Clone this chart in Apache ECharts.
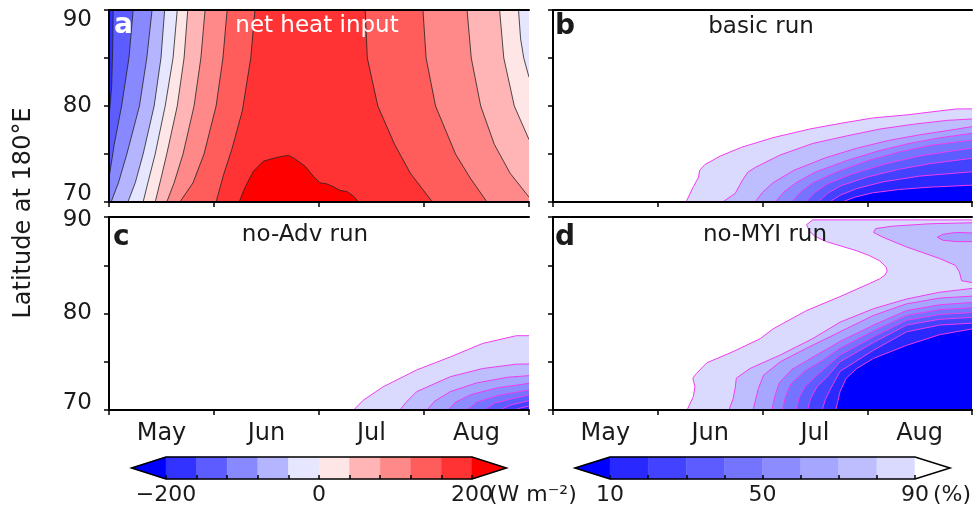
<!DOCTYPE html>
<html>
<head>
<meta charset="utf-8">
<script src="https://cdn.jsdelivr.net/npm/echarts@6/dist/echarts.min.js"></script>
<style>
  html, body { margin: 0; padding: 0; background: #fff; }
  #chart { width: 979px; height: 512px; }
</style>
</head>
<body>
<div id="chart"></div>
<script>
// x is months since 1 May (0..4), y is latitude (70..90)
const months = ["May", "Jun", "Jul", "Aug"];
const latLabels = [70, 80, 90];

// colour bars
const heatBarStops = [-245, -200, -160, -120, -80, -40, 0, 40, 80, 120, 160, 200, 245];
const heatColors = ["#0000ff", "#3333ff", "#5c5cff", "#8888ff", "#b5b5ff", "#e6e6ff",
  "#ffe6e6", "#ffb5b5", "#ff8888", "#ff5c5c", "#ff3333", "#ff0000"];
const iceBarStops = [0.8, 10, 20, 30, 40, 50, 60, 70, 80, 90, 99.2];
const iceColors = ["#0000ff", "#2828ff", "#4242ff", "#5c5cff", "#7474ff", "#8c8cff",
  "#a6a6ff", "#bebeff", "#dadaff", "#ffffff"];

// a: net heat input (W m-2), contours on the rising side (value grows to the right)
const heatRise = [
  { level: -160, pts: [[0.04, 90], [0.035, 86], [0.025, 82], [0, 78.8]] },
  { level: -120, pts: [[0.23, 90], [0.19, 85], [0.12, 80], [0.05, 76], [0, 72.5]] },
  { level: -80, pts: [[0.41, 90], [0.36, 85], [0.29, 80], [0.17, 75], [0.09, 72], [0.02, 70]] },
  { level: -40, pts: [[0.53, 90], [0.495, 85], [0.43, 80], [0.325, 75], [0.25, 72], [0.18, 70]] },
  { level: 0, pts: [[0.65, 90], [0.61, 85], [0.535, 80], [0.44, 75], [0.37, 72], [0.325, 70]] },
  { level: 40, pts: [[0.75, 90], [0.715, 85], [0.65, 80], [0.55, 75], [0.485, 72], [0.44, 70]] },
  { level: 80, pts: [[0.915, 90], [0.875, 85], [0.81, 80], [0.705, 75], [0.62, 72], [0.55, 70]] },
  { level: 120, pts: [[1.125, 90], [1.085, 85], [1.02, 80], [0.905, 75], [0.8, 72], [0.675, 70]] },
  { level: 160, pts: [[1.39, 90], [1.35, 85], [1.27, 79.5], [1.17, 75.5], [1.09, 72.8], [1.02, 70]] }
];
// contours on the falling side (value drops to the right)
const heatFall = [
  { level: 160, pts: [[2.44, 90], [2.46, 85], [2.56, 80], [2.72, 76], [2.87, 73], [3.08, 70]] },
  { level: 120, pts: [[2.99, 90], [3.02, 85], [3.11, 80], [3.3, 75], [3.44, 72.5], [3.6, 70]] },
  { level: 80, pts: [[3.41, 90], [3.45, 85], [3.54, 80], [3.67, 76], [3.82, 73], [4, 70.5]] },
  { level: 40, pts: [[3.72, 90], [3.76, 85], [3.86, 80], [4, 76.5]] },
  { level: 0, pts: [[3.9, 90], [3.92, 87], [3.95, 85], [4, 83]] }
];
const heatPeak = { level: 200, pts: [[1.24, 70], [1.295, 71.5], [1.375, 73.2], [1.47, 74.25], [1.55, 74.5],
  [1.645, 74.75], [1.71, 74.85], [1.77, 74.5], [1.87, 73.7], [1.945, 72.7], [2.01, 72.0], [2.07, 71.9],
  [2.135, 71.6], [2.2, 71.2], [2.265, 71.1], [2.33, 70.6], [2.375, 70]] };

// b: basic run, sea ice concentration (%)
const basicRun = [
  { level: 90, pts: [[1.27, 70], [1.34, 71.6], [1.39, 72.6], [1.4, 73.3], [1.45, 73.9], [1.6, 74.8], [1.8, 75.7],
    [2.1, 76.7], [2.45, 77.6], [2.75, 78.2], [3.05, 78.75], [3.4, 79.1], [3.7, 79.5], [3.86, 79.7], [4, 79.7]] },
  { level: 80, pts: [[1.62, 70], [1.74, 70.9], [1.81, 72.3], [1.86, 73.1], [1.93, 73.6], [2.17, 74.9], [2.48, 76.1],
    [2.81, 76.9], [3.12, 77.6], [3.44, 78.1], [3.76, 78.5], [4, 78.65]] },
  { level: 70, pts: [[1.93, 70], [2.0, 71.0], [2.1, 72.0], [2.3, 73.3], [2.6, 74.6], [2.9, 75.6], [3.2, 76.4],
    [3.5, 77.0], [3.8, 77.5], [4, 77.85]] },
  { level: 60, pts: [[2.12, 70], [2.2, 71.0], [2.32, 72.0], [2.5, 73.1], [2.8, 74.3], [3.1, 75.3], [3.4, 76.1],
    [3.7, 76.7], [4, 77.15]] },
  { level: 50, pts: [[2.28, 70], [2.36, 71.0], [2.48, 72.0], [2.7, 73.1], [3.0, 74.3], [3.3, 75.2], [3.6, 75.9], [4, 76.45]] },
  { level: 40, pts: [[2.41, 70], [2.5, 71.0], [2.62, 71.9], [2.85, 72.9], [3.15, 73.9], [3.5, 74.8], [3.8, 75.3], [4, 75.6]] },
  { level: 30, pts: [[2.53, 70], [2.62, 70.9], [2.75, 71.7], [3.0, 72.6], [3.3, 73.4], [3.6, 74.0], [4, 74.55]] },
  { level: 20, pts: [[2.64, 70], [2.74, 70.7], [2.9, 71.4], [3.15, 72.1], [3.5, 72.7], [4, 73.15]] },
  { level: 10, pts: [[2.76, 70], [2.88, 70.5], [3.05, 70.95], [3.3, 71.3], [3.6, 71.55], [4, 71.75]] }
];

// c: no-Adv run
const noAdvRun = [
  { level: 90, pts: [[2.33, 70], [2.42, 71.0], [2.61, 72.4], [2.93, 74.15], [3.25, 75.5], [3.56, 76.9], [3.88, 77.7], [4, 77.7]] },
  { level: 80, pts: [[2.77, 70], [2.83, 70.8], [2.93, 71.9], [3.25, 73.45], [3.56, 74.3], [3.88, 74.75], [4, 74.77]] },
  { level: 70, pts: [[3.03, 70], [3.1, 70.9], [3.25, 71.9], [3.5, 72.8], [3.8, 73.4], [4, 73.56]] },
  { level: 60, pts: [[3.23, 70], [3.3, 70.8], [3.45, 71.6], [3.7, 72.3], [4, 72.76]] },
  { level: 50, pts: [[3.41, 70], [3.5, 70.8], [3.7, 71.5], [4, 72.07]] },
  { level: 40, pts: [[3.57, 70], [3.67, 70.7], [3.85, 71.2], [4, 71.55]] },
  { level: 30, pts: [[3.72, 70], [3.82, 70.5], [4, 70.97]] },
  { level: 20, pts: [[3.86, 70], [3.93, 70.25], [4, 70.4]] }
];

// d: no-MYI run
const noMyiRun = [
  { level: 90, pts: [[1.28, 70], [1.34, 71.4], [1.355, 72.4], [1.335, 73.3], [1.37, 73.8], [1.47, 74.9], [1.72, 76.05],
    [1.98, 77.4], [2.1, 78.4], [2.42, 80.3], [2.74, 81.75], [3.02, 83.1], [3.12, 83.6], [3.17, 84.0], [3.19, 84.4],
    [3.18, 84.8], [3.12, 85.45], [3.02, 86.0], [2.9, 86.5], [2.61, 87.45], [2.5, 88.0], [2.45, 88.5], [2.42, 89.2],
    [2.48, 89.7], [4, 89.7]] },
  { level: 80, pts: [[1.68, 70], [1.72, 71.2], [1.74, 72.3], [1.75, 73.3], [1.88, 74.3], [2.17, 75.7], [2.48, 77.4],
    [2.74, 79.1], [3.06, 80.5], [3.375, 81.5], [3.69, 82.2], [4, 82.6]] },
  { level: 80, pts: [[4, 83.2], [3.9, 83.4], [3.88, 84.3], [3.84, 85.0], [3.69, 85.7], [3.375, 86.9], [3.15, 87.9],
    [3.06, 88.4], [3.08, 88.8], [3.24, 89.05], [3.6, 89.3], [4, 89.4]] },
  { level: 70, pts: [[1.91, 70], [1.96, 72.2], [2.01, 73.6], [2.17, 75.0], [2.42, 76.4], [2.74, 78.1], [3.06, 79.8],
    [3.375, 81.0], [3.69, 81.6], [4, 81.8]] },
  { level: 70, pts: [[4, 88.35], [3.85, 88.4], [3.72, 88.2], [3.67, 87.9], [3.72, 87.6], [3.85, 87.45], [4, 87.45]] },
  { level: 60, pts: [[2.09, 70], [2.12, 71.5], [2.16, 72.8], [2.28, 74.2], [2.5, 75.6], [2.74, 77.1], [3.06, 78.8],
    [3.375, 80.3], [3.69, 80.9], [4, 81.15]] },
  { level: 50, pts: [[2.19, 70], [2.22, 71.4], [2.27, 72.7], [2.4, 74.0], [2.58, 75.2], [2.74, 76.4], [3.06, 78.2],
    [3.375, 79.8], [3.69, 80.4], [4, 80.6]] },
  { level: 40, pts: [[2.32, 70], [2.35, 71.3], [2.41, 72.5], [2.53, 73.7], [2.74, 75.7], [3.06, 77.6], [3.375, 79.3],
    [3.69, 79.9], [4, 80.1]] },
  { level: 30, pts: [[2.43, 70], [2.46, 71.2], [2.52, 72.4], [2.63, 73.6], [2.74, 75.0], [3.06, 77.0], [3.375, 78.8],
    [3.69, 79.4], [4, 79.6]] },
  { level: 20, pts: [[2.57, 70], [2.6, 71.1], [2.65, 72.2], [2.74, 74.0], [3.06, 76.2], [3.375, 78.1], [3.69, 78.8], [4, 79.0]] },
  { level: 10, pts: [[2.7, 70], [2.74, 71.9], [2.8, 73.3], [2.9, 74.3], [3.06, 75.35], [3.375, 76.7], [3.69, 77.8], [4, 78.4]] }
];

const FONT = "DejaVu Sans";
const TXT = "#1a1a1a";

// filled bands for panel a: each contour fills everything to its right
function heatItems() {
  const items = [{ poly: [[0, 70], [0, 90], [4, 90], [4, 70]], line: null, color: heatColors[1] }];
  heatRise.forEach((c) => {
    const poly = c.pts.slice();
    if (poly[poly.length - 1][1] > 70) poly.push([0, 70]);
    poly.push([4, 70], [4, 90]);
    items.push({ poly, line: c.pts, color: heatColors[(c.level + 200) / 40 + 1] });
  });
  heatFall.forEach((c) => {
    const poly = c.pts.slice();
    if (poly[poly.length - 1][0] < 4) poly.push([4, 70]);
    poly.push([4, 90]);
    items.push({ poly, line: c.pts, color: heatColors[(c.level + 200) / 40] });
  });
  items.push({ poly: heatPeak.pts, line: heatPeak.pts, color: heatColors[11] });
  return items;
}

// ice bands: region below/right of each contour has lower concentration
function iceItems(contours) {
  return contours.map((c) => {
    const poly = c.pts.slice();
    if (c.pts[0][1] === 70) poly.push([4, 70]);
    return { poly, line: c.pts, color: iceColors[c.level / 10 - 1] };
  });
}

function contourSeries(idx, items, stroke, width) {
  return {
    type: "custom",
    xAxisIndex: idx,
    yAxisIndex: idx,
    clip: true,
    silent: true,
    data: items.map(() => [0, 70]),
    renderItem: (params, api) => {
      const it = items[params.dataIndex];
      const children = [{
        type: "polygon",
        shape: { points: it.poly.map((p) => api.coord(p)) },
        style: { fill: it.color }
      }];
      if (it.line) {
        children.push({
          type: "polyline",
          shape: { points: it.line.map((p) => api.coord(p)) },
          style: { stroke: stroke, lineWidth: width, fill: null }
        });
      }
      return { type: "group", children };
    }
  };
}

function barSeries(xIdx, yIdx, stops, colors) {
  return {
    type: "custom",
    xAxisIndex: xIdx,
    yAxisIndex: yIdx,
    clip: false,
    silent: true,
    data: [[stops[1], 0]],
    renderItem: (params, api) => {
      const n = stops.length - 1;
      const children = colors.map((c, i) => {
        let pts;
        if (i === 0) pts = [[stops[0], 0.5], [stops[1], 1], [stops[1], 0]];
        else if (i === n - 1) pts = [[stops[i], 0], [stops[i], 1], [stops[n], 0.5]];
        else pts = [[stops[i], 0], [stops[i], 1], [stops[i + 1], 1], [stops[i + 1], 0]];
        return { type: "polygon", shape: { points: pts.map((p) => api.coord(p)) },
          style: { fill: c, stroke: c, lineWidth: 0.5 } };
      });
      const outline = [[stops[0], 0.5], [stops[1], 1], [stops[n - 1], 1], [stops[n], 0.5], [stops[n - 1], 0], [stops[1], 0]];
      children.push({ type: "polygon", shape: { points: outline.map((p) => api.coord(p)) },
        style: { fill: "none", stroke: "#000", lineWidth: 1.5 } });
      return { type: "group", children };
    }
  };
}

const grids = [
  { left: 109, top: 10, width: 420, height: 192 },
  { left: 553, top: 10, width: 419, height: 192 },
  { left: 109, top: 217, width: 420, height: 193 },
  { left: 553, top: 217, width: 419, height: 193 },
  { left: 166, top: 457, width: 306, height: 22 },
  { left: 610, top: 457, width: 305, height: 22 }
].map((g) => Object.assign({ outerBoundsMode: "none", containLabel: false }, g));

const frame = { show: true, lineStyle: { color: "#000", width: 2 } };
const xAxes = [];
const yAxes = [];
for (let i = 0; i < 4; i++) {
  xAxes.push({
    gridIndex: i, type: "value", min: 0, max: 4, interval: 1, position: "bottom", z: 10,
    axisLine: frame, axisTick: { show: true, inside: false, length: 5, lineStyle: { color: "#000", width: 1.5 } },
    axisLabel: { show: false }, splitLine: { show: false }
  });
}
for (let i = 0; i < 4; i++) {
  xAxes.push({
    gridIndex: i, type: "value", min: 0, max: 4, position: "top", z: 10,
    axisLine: frame, axisTick: { show: false }, axisLabel: { show: false }, splitLine: { show: false }
  });
}
[2, 3].forEach((g) => {
  xAxes.push({
    gridIndex: g, type: "category", data: months, boundaryGap: true, position: "bottom", z: 10,
    axisLine: { show: false }, axisTick: { show: false }, splitLine: { show: false },
    axisLabel: { show: true, fontSize: 24, fontFamily: FONT, color: TXT, margin: 12 }
  });
});
xAxes.push({
  gridIndex: 4, type: "value", min: -200, max: 200, interval: 40, position: "bottom", z: 10,
  axisLine: { show: false }, splitLine: { show: false },
  axisTick: { show: true, inside: true, length: 4, lineStyle: { color: "#000", width: 1.5 } },
  axisLabel: { fontSize: 22, fontFamily: FONT, color: TXT, margin: 5,
    formatter: (v) => (v === -200 ? "\u2212200" : v === 0 || v === 200 ? String(v) : "") }
});
xAxes.push({
  gridIndex: 5, type: "value", min: 10, max: 90, interval: 10, position: "bottom", z: 10,
  axisLine: { show: false }, splitLine: { show: false },
  axisTick: { show: true, inside: true, length: 4, lineStyle: { color: "#000", width: 1.5 } },
  axisLabel: { fontSize: 22, fontFamily: FONT, color: TXT, margin: 5,
    formatter: (v) => (v === 10 || v === 50 || v === 90 ? String(v) : "") }
});

const labelBase = { fontSize: 23, fontFamily: FONT, color: TXT };
for (let i = 0; i < 4; i++) {
  const withLabels = i === 0 || i === 2;
  yAxes.push({
    gridIndex: i, type: "value", min: 70, max: 90, interval: 5, position: "left", z: 10,
    axisLine: frame, splitLine: { show: false },
    axisTick: { show: true, inside: false, length: 5, lineStyle: { color: "#000", width: 1.5 } },
    axisLabel: {
      show: withLabels, margin: 17, fontSize: 23, fontFamily: FONT, color: TXT,
      formatter: (v) => {
        if (latLabels.indexOf(v) < 0) return "";
        if (v === 90) return (i === 0 ? "{t|" : "{u|") + v + "}";
        if (v === 70) return (i === 0 ? "{b|" : "{c|") + v + "}";
        return "{m|" + v + "}";
      },
      rich: {
        t: Object.assign({ padding: [20, 0, 0, 0] }, labelBase),
        u: Object.assign({ padding: [6, 0, 0, 0] }, labelBase),
        b: Object.assign({ padding: [0, 0, 16, 0] }, labelBase),
        c: Object.assign({ padding: [0, 0, 14, 0] }, labelBase),
        m: Object.assign({}, labelBase)
      }
    }
  });
}
for (let i = 0; i < 4; i++) {
  yAxes.push({
    gridIndex: i, type: "value", min: 70, max: 90, position: "right", z: 10,
    axisLine: frame, axisTick: { show: false }, axisLabel: { show: false }, splitLine: { show: false }
  });
}
yAxes.push({ gridIndex: 4, type: "value", min: 0, max: 1, show: false });
yAxes.push({ gridIndex: 5, type: "value", min: 0, max: 1, show: false });

function txt(text, x, y, size, opts) {
  return {
    type: "text", x: x, y: y, z: 100, silent: true,
    style: Object.assign({ text: text, fontSize: size, fontFamily: FONT, fill: TXT,
      align: "center", verticalAlign: "middle" }, opts || {})
  };
}

const chart = echarts.init(document.getElementById("chart"));
chart.setOption({
  animation: false,
  backgroundColor: "#fff",
  grid: grids,
  xAxis: xAxes,
  yAxis: yAxes,
  series: [
    contourSeries(0, heatItems(), "#222", 0.8),
    contourSeries(1, iceItems(basicRun), "#f03cf0", 1),
    contourSeries(2, iceItems(noAdvRun), "#f03cf0", 1),
    contourSeries(3, iceItems(noMyiRun), "#f03cf0", 1),
    barSeries(10, 8, heatBarStops, heatColors),
    barSeries(11, 9, iceBarStops, iceColors)
  ],
  graphic: [
    txt("net heat input", 317, 26, 23, { fill: "#fff" }),
    txt("basic run", 761, 27, 23),
    txt("no-Adv run", 305, 235, 23),
    txt("no-MYI run", 765, 235, 23),
    txt("a", 114, 26, 28, { fill: "#fff", fontWeight: "bold", align: "left" }),
    txt("b", 555, 27, 28, { fontWeight: "bold", align: "left" }),
    txt("c", 113, 238, 28, { fontWeight: "bold", align: "left" }),
    txt("d", 555, 238, 28, { fontWeight: "bold", align: "left" }),
    Object.assign(txt("Latitude at 180\u00b0E", 24, 213, 24), { rotation: Math.PI / 2 }),
    txt("(W m\u207b\u00b2)", 489, 495, 22, { align: "left" }),
    txt("(%)", 933, 495, 22, { align: "left" })
  ]
});
</script>
</body>
</html>
